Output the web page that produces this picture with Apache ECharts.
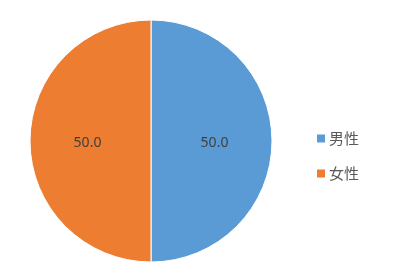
<!DOCTYPE html>
<html><head><meta charset="utf-8">
<script src="https://cdn.jsdelivr.net/npm/echarts@6/dist/echarts.min.js"></script>
<style>html,body{margin:0;padding:0;background:#fff}#c{width:398px;height:279px}</style>
</head><body><div id="c"></div>
<script>
const categories = ['男性', '女性'];
const values = [50.0, 50.0];
const colors = ['#5B9BD5', '#ED7D31'];

const chart = echarts.init(document.getElementById('c'), null, {renderer: 'canvas'});
chart.setOption({
  animation: false,
  color: colors,
  legend: {
    orient: 'vertical',
    left: 312,
    top: 126,
    padding: 5,
    itemWidth: 8,
    itemHeight: 8,
    itemGap: 20,
    icon: 'rect',
    itemStyle: {borderWidth: 0},
    textStyle: {fontFamily: '"Noto Sans CJK JP", sans-serif', fontSize: 15, color: '#595959', padding: [0, 0, 0, -1]},
    data: categories
  },
  series: [{
    type: 'pie',
    center: [151, 141],
    radius: 121,
    startAngle: 90,
    itemStyle: {borderColor: '#fff', borderWidth: 1},
    label: {
      position: 'inside',
      formatter: p => p.value.toFixed(1),
      fontFamily: '"Noto Sans", sans-serif',
      fontSize: 14,
      color: '#404040',
      offset: [0, 2]
    },
    labelLine: {show: false},
    data: categories.map((c, i) => ({name: c, value: values[i]}))
  }]
});
</script></body></html>
